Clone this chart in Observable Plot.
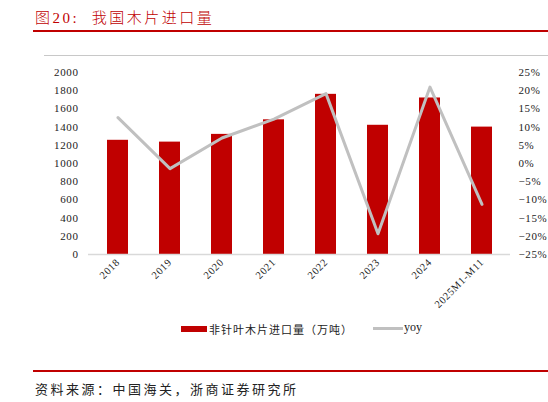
<!DOCTYPE html>
<html><head><meta charset="utf-8">
<script src="https://cdn.jsdelivr.net/npm/d3@7"></script>
<script src="https://cdn.jsdelivr.net/npm/@observablehq/plot@0.6"></script>
<style>
body{margin:0;width:548px;height:402px;background:#fff;position:relative;overflow:hidden;font-family:"Liberation Serif","Noto Sans CJK SC",serif;}
.abs{position:absolute;}
#chart svg text{letter-spacing:0.6px;}
</style></head><body>
<div class="abs" style="left:35px;top:6px;font-size:15px;color:#c00000;white-space:pre;letter-spacing:2.5px;font-weight:300;">图20:  我国木片进口量</div>
<div class="abs" style="left:33px;top:30px;width:515px;height:1.5px;background:#c00000;"></div>
<div class="abs" style="left:44px;top:55px;width:504px;height:1px;background:#c8c8c8;"></div>
<div id="chart" class="abs" style="left:0;top:60px;"></div>
<div class="abs" style="left:181px;top:326px;width:26px;height:6px;background:#c00000;"></div>
<div class="abs" style="left:209px;top:321px;font-size:11px;color:#222;letter-spacing:1px;">非针叶木片进口量（万吨）</div>
<div class="abs" style="left:373px;top:327px;width:30px;height:3px;background:#c0c0c0;"></div>
<div class="abs" style="left:404px;top:320px;font-size:12px;color:#222;">yoy</div>
<div class="abs" style="left:33px;top:370px;width:515px;height:1.5px;background:#c00000;"></div>
<div class="abs" style="left:35px;top:379px;font-size:13px;color:#222;letter-spacing:2.5px;">资料来源：中国海关，浙商证券研究所</div>
<script>
const categories = ["2018","2019","2020","2021","2022","2023","2024","2025M1-M11"];
const volumes = [1255, 1235, 1320, 1480, 1760, 1420, 1720, 1400];
const yoy = [12.6, -1.4, 7.0, 12.2, 19.2, -19.3, 21.0, -11.2];
const leftTicks = [0,200,400,600,800,1000,1200,1400,1600,1800,2000];
const rightTicks = [-25,-20,-15,-10,-5,0,5,10,15,20,25];

const toLeft = p => (p + 25) / 50 * 2000;
const data = categories.map((c,i)=>({cat:c, vol:volumes[i], yoyL: toLeft(yoy[i])}));

const chart = Plot.plot({
  width: 548, height: 250,
  marginLeft: 88, marginRight: 38, marginTop: 12, marginBottom: 56,
  style: {fontFamily: "'Liberation Serif', serif", fontSize: "11px", color: "#222"},
  x: {domain: categories, paddingInner: 0.6, paddingOuter: 0.3, label: null},
  y: {domain: [0, 2000], label: null},
  marks: [
    Plot.barY(data, {x: "cat", y: "vol", fill: "#c00000"}),
    Plot.ruleY([0], {stroke: "#d9d9d9", strokeWidth: 1.5}),
    Plot.line(data, {x: "cat", y: "yoyL", stroke: "#c0c0c0", strokeWidth: 3}),
    Plot.axisY(leftTicks, {anchor: "left", tickSize: 0, tickPadding: 10, label: null, tickFormat: d3.format("d")}),
    Plot.axisY(rightTicks.map(toLeft), {anchor: "right", tickSize: 0, tickPadding: 8, label: null,
      tickFormat: v => { const p = Math.round(v/2000*50 - 25); return (p < 0 ? "−" + (-p) : p) + "%"; }}),
    Plot.axisX({tickSize: 0, tickRotate: -45, tickPadding: 6, label: null, fontSize: 10.5})
  ]
});
document.getElementById("chart").append(chart);
</script>
</body></html>
